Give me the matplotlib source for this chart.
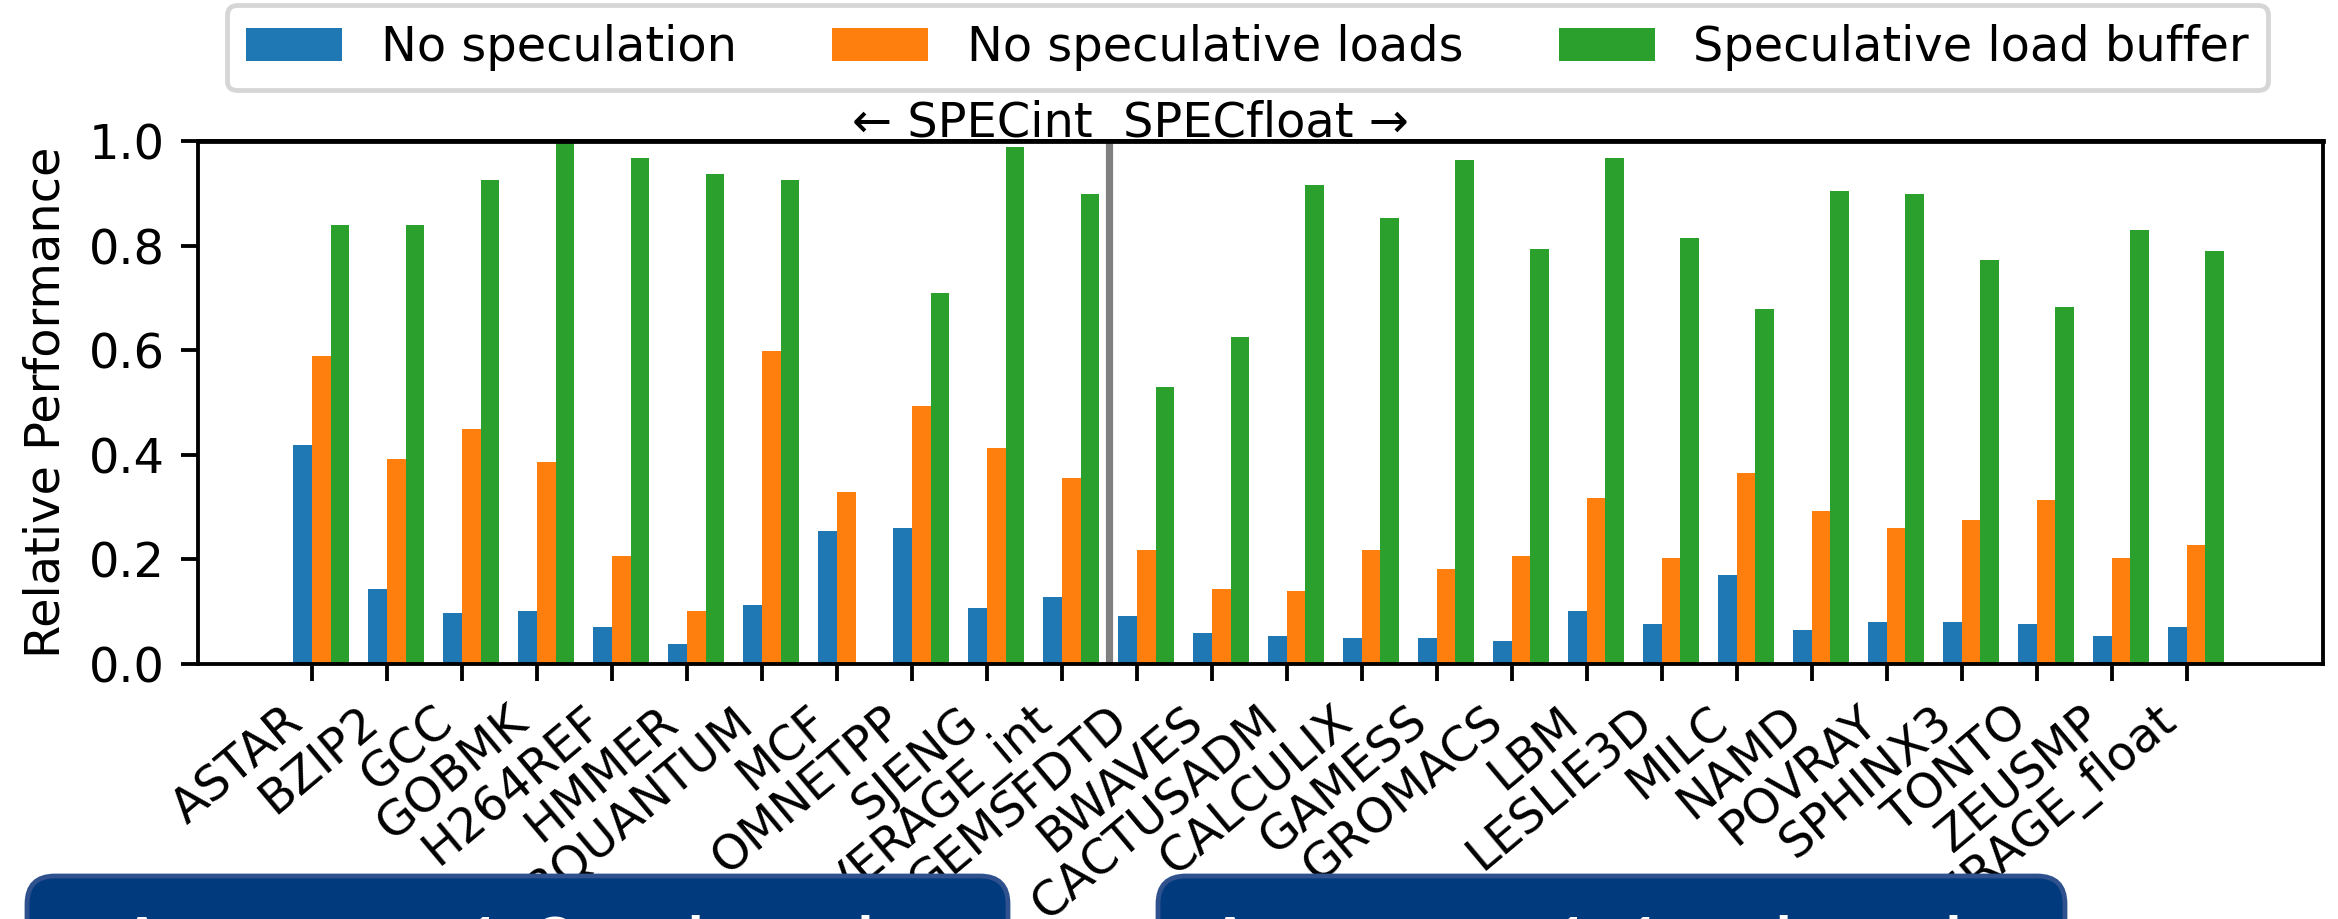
import numpy as np
import matplotlib
matplotlib.use("Agg")
import matplotlib.pyplot as plt
from matplotlib.patches import FancyBboxPatch
from matplotlib.transforms import IdentityTransform

categories = ["ASTAR", "BZIP2", "GCC", "GOBMK", "H264REF", "HMMER", "LIBQUANTUM",
              "MCF", "OMNETPP", "SJENG", "AVERAGE_int", "GEMSFDTD", "BWAVES",
              "CACTUSADM", "CALCULIX", "GAMESS", "GROMACS", "LBM", "LESLIE3D",
              "MILC", "NAMD", "POVRAY", "SPHINX3", "TONTO", "ZEUSMP", "AVERAGE_float"]

no_speculation = [0.418, 0.144, 0.097, 0.102, 0.070, 0.039, 0.112, 0.255, 0.260, 0.107,
                  0.128, 0.091, 0.059, 0.054, 0.049, 0.049, 0.044, 0.102, 0.076, 0.170,
                  0.065, 0.081, 0.081, 0.076, 0.054, 0.070]
no_spec_loads = [0.588, 0.392, 0.450, 0.387, 0.207, 0.102, 0.598, 0.329, 0.493, 0.413,
                 0.355, 0.218, 0.144, 0.139, 0.218, 0.181, 0.207, 0.318, 0.202, 0.365,
                 0.292, 0.260, 0.276, 0.313, 0.202, 0.228]
spec_load_buffer = [0.840, 0.840, 0.926, 1.000, 0.968, 0.936, 0.926, 0.0, 0.710, 0.989,
                    0.899, 0.529, 0.625, 0.915, 0.852, 0.963, 0.794, 0.968, 0.815, 0.678,
                    0.905, 0.899, 0.772, 0.683, 0.830, 0.789]

series_labels = ["No speculation", "No speculative loads", "Speculative load buffer"]
section_label = "\u2190 SPECint  SPECfloat \u2192"
box_texts = ["Average 1.3x slowdown", "Average 1.1x slowdown"]

W, H, DPI = 2338, 919, 345
fig = plt.figure(figsize=(W / DPI, H / DPI), dpi=DPI)
ax = fig.add_axes([198 / W, 1 - 664 / H, (2323 - 198) / W, (664 - 141) / H])

x = np.arange(len(categories))
w = 0.25
b1 = ax.bar(x - w / 2, no_speculation, w, color="#1f77b4", label=series_labels[0])
b2 = ax.bar(x + w / 2, no_spec_loads, w, color="#ff7f0e", label=series_labels[1])
b3 = ax.bar(x + 3 * w / 2, spec_load_buffer, w, color="#2ca02c", label=series_labels[2])

ax.set_xticks(x)
ax.set_xticklabels(categories, rotation=40, ha="right")
ax.set_xlim(-1.52, 26.82)
ax.set_ylim(0, 1.0)
ax.set_yticks([0, 0.2, 0.4, 0.6, 0.8, 1.0])
ax.set_ylabel("Relative Performance")

ax.axvline(10.625, color="gray", lw=1.5)
ax.axhline(1.0, color="black", lw=1.0, clip_on=False)
ax.text(10.92, 1.008, section_label, ha="center", va="baseline")

ax.legend(handles=[b1, b2, b3], loc="upper center", ncol=3, borderaxespad=0,
          bbox_to_anchor=(1247.5 / W, 1 - 5 / H), bbox_transform=fig.transFigure)

# overlaid slide boxes (pixel coordinates, origin bottom-left)
boxes = [(27, 1008, 112), (1158, 2065, 1200)]
for (x0, x1, tx), txt in zip(boxes, box_texts):
    top = H - 876
    p = FancyBboxPatch((x0, -150), x1 - x0, top + 150,
                       boxstyle="round,pad=0,rounding_size=28",
                       transform=IdentityTransform(), facecolor="#023A7E",
                       edgecolor="#2F528F", linewidth=1.0, zorder=5)
    fig.patches.append(p)
    fig.text(tx, -62, txt, transform=IdentityTransform(), color="white",
             fontsize=18.5, family="Lato", ha="left", va="baseline", zorder=6)

fig.savefig("out.png", dpi=DPI)
